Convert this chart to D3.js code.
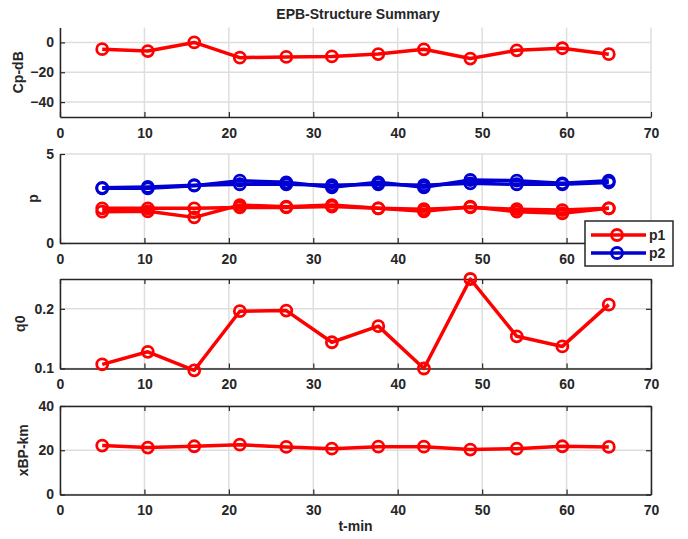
<!DOCTYPE html>
<html>
<head>
<meta charset="utf-8">
<script src="https://cdn.jsdelivr.net/npm/d3@7"></script>
<style>
  body { margin: 0; background: #fff; }
  svg { display: block; font-family: "Liberation Sans", Arial, sans-serif; font-weight: bold; }
  .tick text { font-size: 14px; fill: #262626; }
  .domain { stroke: #262626; stroke-width: 1.5; }
  .tick line { stroke: #262626; stroke-width: 1.2; }
</style>
</head>
<body>
<svg id="chart" width="688" height="539"></svg>
<script>
// time points (minutes)
const tMin = [5, 10.4, 15.9, 21.3, 26.8, 32.2, 37.7, 43.1, 48.6, 54.1, 59.5, 65.0];

// Cp-dB
const cpDb = [-4.5, -5.8, 0, -10.2, -9.7, -9.4, -7.8, -4.6, -10.8, -5.3, -3.9, -7.9];

// p1 / p2 (two traces each)
const p1a = [1.76, 1.78, 1.44, 2.13, 2.04, 2.13, 1.95, 1.78, 2.04, 1.76, 1.67, 1.95];
const p1b = [1.95, 1.95, 1.95, 2.0, 2.0, 2.05, 1.95, 1.9, 2.0, 1.9, 1.85, 1.95];
const p2a = [3.07, 3.07, 3.22, 3.5, 3.41, 3.13, 3.41, 3.13, 3.54, 3.5, 3.35, 3.5];
const p2b = [3.1, 3.15, 3.25, 3.3, 3.3, 3.25, 3.3, 3.25, 3.35, 3.3, 3.3, 3.4];

// q0
const q0 = [0.107, 0.128, 0.097, 0.196, 0.197, 0.144, 0.171, 0.1, 0.25, 0.154, 0.137, 0.207];

// xBP-km
const xBp = [22.1, 21.2, 21.8, 22.5, 21.5, 20.7, 21.6, 21.6, 20.3, 20.7, 21.8, 21.5];

const xTicks = [0, 10, 20, 30, 40, 50, 60, 70];

const RED = "#ff0000";
const BLUE = "#0000d2";

const svg = d3.select("#chart");

//Shared x geometry
const left = 60, right = 651;
const x = d3.scaleLinear().domain([0, 70]).range([left, right]);

//Panel setup (hideX: tick labels covered by the legend)
const panels = [
  { top: 27.5, bottom: 117, domain: [-50, 10], ticks: [-40, -20, 0], label: "Cp-dB", labelX: 23, box: false, hideX: [],
    series: [{ values: cpDb, color: RED }] },
  { top: 154, bottom: 243, domain: [0, 5], ticks: [0, 5], label: "p", labelX: 38, box: false, hideX: [70],
    series: [{ values: p1b, color: RED }, { values: p1a, color: RED }, { values: p2b, color: BLUE }, { values: p2a, color: BLUE }] },
  { top: 279, bottom: 368.5, domain: [0.1, 0.25], ticks: [0.1, 0.2], label: "q0", labelX: 25, box: true, hideX: [],
    series: [{ values: q0, color: RED }] },
  { top: 406, bottom: 494.5, domain: [0, 40], ticks: [0, 20, 40], label: "xBP-km", labelX: 28, box: true, hideX: [],
    series: [{ values: xBp, color: RED }] },
];

const drawPanel = (p) => {
  const y = d3.scaleLinear().domain(p.domain).range([p.bottom, p.top]);
  const g = svg.append("g");

  //Grid lines
  g.selectAll(".vgrid")
    .data(xTicks)
    .enter()
    .append("line")
    .attr("x1", (d) => x(d))
    .attr("x2", (d) => x(d))
    .attr("y1", p.top)
    .attr("y2", p.bottom)
    .attr("stroke", "#dedede")
    .attr("stroke-width", 1.5);
  g.selectAll(".hgrid")
    .data(p.ticks)
    .enter()
    .append("line")
    .attr("x1", left)
    .attr("x2", right)
    .attr("y1", (d) => y(d))
    .attr("y2", (d) => y(d))
    .attr("stroke", "#dedede")
    .attr("stroke-width", 1.5);

  //Axes
  g.append("g")
    .attr("transform", `translate(0,${p.bottom})`)
    .call(
      d3.axisBottom(x).tickValues(xTicks).tickSizeInner(-5).tickSizeOuter(0).tickPadding(8)
        .tickFormat((d) => (p.hideX.includes(d) ? "" : d))
    )
    .selectAll("text")
    .attr("dy", "0.9em");
  g.append("g")
    .attr("transform", `translate(${left},0)`)
    .call(d3.axisLeft(y).tickValues(p.ticks).tickSizeInner(-5).tickSizeOuter(0).tickPadding(6).tickFormat(d3.format("")));

  if (p.box) {
    g.append("g")
      .attr("transform", `translate(0,${p.top})`)
      .call(d3.axisTop(x).tickValues(xTicks).tickSizeInner(-5).tickSizeOuter(0).tickFormat(""));
    g.append("g")
      .attr("transform", `translate(${right},0)`)
      .call(d3.axisRight(y).tickValues(p.ticks).tickSizeInner(-5).tickSizeOuter(0).tickFormat(""));
  }

  //Y label
  g.append("text")
    .attr("transform", `translate(${p.labelX},${(p.top + p.bottom) / 2}) rotate(-90)`)
    .attr("text-anchor", "middle")
    .attr("font-size", 14)
    .attr("fill", "#262626")
    .text(p.label);

  //Lines and markers
  const line = d3.line().x((d, i) => x(tMin[i])).y((d) => y(d));
  p.series.forEach((s) => {
    g.append("path")
      .datum(s.values)
      .attr("d", line)
      .attr("fill", "none")
      .attr("stroke", s.color)
      .attr("stroke-width", 3.5)
      .attr("stroke-linejoin", "round");
    g.selectAll(null)
      .data(s.values)
      .enter()
      .append("circle")
      .attr("cx", (d, i) => x(tMin[i]))
      .attr("cy", (d) => y(d))
      .attr("r", 5.5)
      .attr("fill", "none")
      .attr("stroke", s.color)
      .attr("stroke-width", 2.8);
  });
};

panels.forEach(drawPanel);

//Title and x label
svg.append("text")
  .attr("x", 358)
  .attr("y", 19)
  .attr("text-anchor", "middle")
  .attr("font-size", 14)
  .attr("fill", "#262626")
  .text("EPB-Structure Summary");

svg.append("text")
  .attr("x", x(35))
  .attr("y", 531)
  .attr("text-anchor", "middle")
  .attr("font-size", 14)
  .attr("fill", "#262626")
  .text("t-min");

//Legend
const legendData = [
  { name: "p1", color: RED },
  { name: "p2", color: BLUE },
];
const legend = svg.append("g").attr("transform", "translate(585,221)");
legend.append("rect")
  .attr("width", 88)
  .attr("height", 45)
  .attr("fill", "#fff")
  .attr("stroke", "#262626")
  .attr("stroke-width", 1.5);
const items = legend.selectAll(".item")
  .data(legendData)
  .enter()
  .append("g")
  .attr("transform", (d, i) => `translate(0,${14 + i * 18})`);
items.append("line")
  .attr("x1", 6).attr("x2", 61)
  .attr("stroke", (d) => d.color)
  .attr("stroke-width", 3.5);
items.append("circle")
  .attr("cx", 32).attr("r", 5.5)
  .attr("fill", "none")
  .attr("stroke", (d) => d.color)
  .attr("stroke-width", 2.8);
items.append("text")
  .attr("x", 64).attr("y", 5)
  .attr("font-size", 14)
  .attr("fill", "#262626")
  .text((d) => d.name);
</script>
</body>
</html>
